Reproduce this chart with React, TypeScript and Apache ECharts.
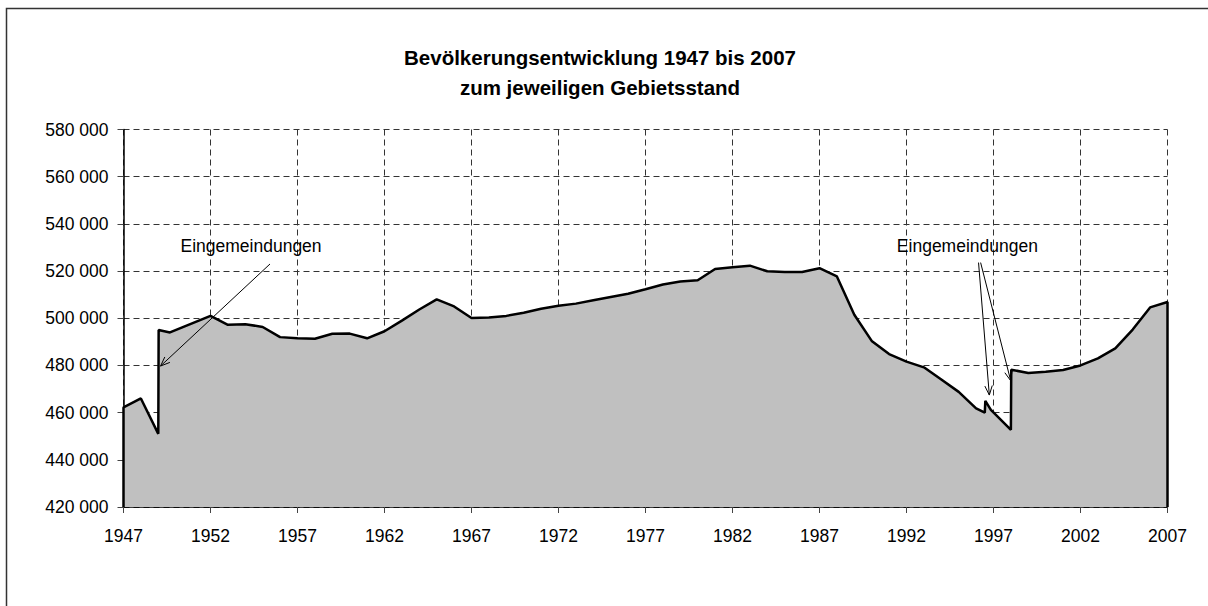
import React, { useEffect, useRef } from "react";
import * as echarts from "echarts";

const BASE_YEAR = 1947;
const END_YEAR = 2007;
const YEAR_STEP = 5;
const Y_MIN = 420000;
const Y_MAX = 580000;
const Y_STEP = 20000;

const titleLines = ["Bevölkerungsentwicklung 1947 bis 2007", "zum jeweiligen Gebietsstand"];
const annotationLabel = "Eingemeindungen";

// year positions (fractional where the series jumps within a year)
const years = [
  1947, 1948, 1949, 1949.02, 1949.67, 1952, 1953, 1954, 1955, 1956, 1957, 1958, 1959, 1960,
  1961, 1962, 1963, 1964, 1965, 1966, 1967, 1968, 1969, 1970, 1971, 1972, 1973, 1974, 1975,
  1976, 1977, 1978, 1979, 1980, 1981, 1982, 1983, 1984, 1985, 1986, 1987, 1988, 1989, 1990,
  1991, 1992, 1993, 1994, 1995, 1996, 1996.5, 1996.53, 1996.85, 1998, 1998.02, 1999, 2000,
  2001, 2002, 2003, 2004, 2005, 2006, 2007,
];

const population = [
  462200, 466000, 451000, 495000, 494000, 501000, 497200, 497500, 496300, 492000, 491500,
  491300, 493400, 493500, 491500, 494500, 499000, 503700, 508000, 505000, 500100, 500300,
  501000, 502300, 504000, 505300, 506200, 507600, 509000, 510400, 512300, 514300, 515600,
  516100, 520900, 521600, 522300, 519900, 519600, 519600, 521200, 517700, 501500, 490400,
  484800, 481600, 479200, 474000, 468800, 461800, 460000, 465000, 461200, 452700, 478200,
  476800, 477300, 478100, 480000, 483000, 487200, 495200, 504600, 506900,
];

// annotation label anchors [year, value]
const labelAnchors = [
  [1954.33, 530600],
  [1995.5, 530600],
];

// arrows [fromYear, fromValue, toYear, toValue]
const arrows = [
  [1955.42, 523000, 1949.13, 479750],
  [1996.14, 523600, 1996.76, 467450],
  [1996.26, 523600, 1997.99, 473500],
];

const FONT = '"Liberation Sans", Arial, Helvetica, sans-serif';

const fmt = (v: number) => String(v).replace(/\B(?=(\d{3})+(?!\d))/g, " ");

export default function App() {
  const ref = useRef<HTMLDivElement>(null);

  useEffect(() => {
    document.body.style.margin = "0";
    if (!ref.current) return;
    const chart = echarts.init(ref.current, null, { renderer: "svg" });

    const seriesData = [
      [0, Y_MIN],
      ...years.map((y, i) => [y - BASE_YEAR, population[i]]),
      [END_YEAR - BASE_YEAR, Y_MIN],
    ];

    chart.setOption({
      animation: false,
      backgroundColor: "#ffffff",
      grid: { left: 123.5, right: 40.5, top: 129.5, bottom: 99, containLabel: false },
      xAxis: {
        type: "value",
        min: 0,
        max: END_YEAR - BASE_YEAR,
        interval: YEAR_STEP,
        axisLine: { show: true, lineStyle: { color: "#000", width: 1.5 } },
        axisTick: { show: true, length: 6, lineStyle: { color: "#444", width: 1 } },
        axisLabel: {
          margin: 20,
          color: "#000",
          fontSize: 17.5,
          fontFamily: FONT,
          formatter: (v: number) => String(v + BASE_YEAR),
        },
        splitLine: { show: true, lineStyle: { color: "#333", type: [6, 4], width: 1 } },
      },
      yAxis: {
        type: "value",
        min: Y_MIN,
        max: Y_MAX,
        interval: Y_STEP,
        axisLine: { show: true, lineStyle: { color: "#000", width: 1.5 } },
        axisTick: { show: true, length: 6, lineStyle: { color: "#444", width: 1 } },
        axisLabel: {
          margin: 15,
          color: "#000",
          fontSize: 17.5,
          fontFamily: FONT,
          formatter: (v: number) => fmt(v),
        },
        splitLine: { show: true, lineStyle: { color: "#333", type: [6, 4], width: 1 } },
      },
      series: [
        {
          type: "line",
          data: seriesData,
          symbol: "none",
          lineStyle: { color: "#000", width: 2.5 },
          areaStyle: { color: "#c0c0c0", opacity: 1, origin: "start" },
          z: 3,
        },
      ],
    });

    const px = (yr: number, v: number) =>
      chart.convertToPixel({ gridIndex: 0 }, [yr - BASE_YEAR, v]) as number[];

    const elements: any[] = [
      {
        type: "rect",
        shape: { x: 6.5, y: 8.5, width: 1300, height: 700 },
        style: { fill: "none", stroke: "#333", lineWidth: 1.5 },
        silent: true,
      },
      {
        type: "text",
        x: 600,
        y: 57,
        style: {
          text: titleLines[0],
          font: `bold 20.5px ${FONT}`,
          fill: "#000",
          align: "center",
          verticalAlign: "middle",
        },
      },
      {
        type: "text",
        x: 600,
        y: 87,
        style: {
          text: titleLines[1],
          font: `bold 20.5px ${FONT}`,
          fill: "#000",
          align: "center",
          verticalAlign: "middle",
        },
      },
    ];

    labelAnchors.forEach(([yr, v]) => {
      const [x, y] = px(yr, v);
      elements.push({
        type: "text",
        x,
        y,
        z: 10,
        style: {
          text: annotationLabel,
          font: `17.5px ${FONT}`,
          fill: "#000",
          align: "center",
          verticalAlign: "middle",
        },
      });
    });

    arrows.forEach(([y1, v1, y2, v2]) => {
      const [x1, yy1] = px(y1, v1);
      const [x2, yy2] = px(y2, v2);
      const ang = Math.atan2(yy2 - yy1, x2 - x1);
      const len = 10;
      const spread = 0.38;
      const a1 = ang + Math.PI - spread;
      const a2 = ang + Math.PI + spread;
      elements.push({
        type: "line",
        z: 10,
        shape: { x1, y1: yy1, x2, y2: yy2 },
        style: { stroke: "#000", lineWidth: 1 },
      });
      elements.push({
        type: "polyline",
        z: 10,
        shape: {
          points: [
            [x2 + len * Math.cos(a1), yy2 + len * Math.sin(a1)],
            [x2, yy2],
            [x2 + len * Math.cos(a2), yy2 + len * Math.sin(a2)],
          ],
        },
        style: { stroke: "#000", lineWidth: 1, fill: "none" },
      });
    });

    chart.setOption({ graphic: elements });

    return () => chart.dispose();
  }, []);

  return <div ref={ref} style={{ width: 1208, height: 606 }} />;
}
